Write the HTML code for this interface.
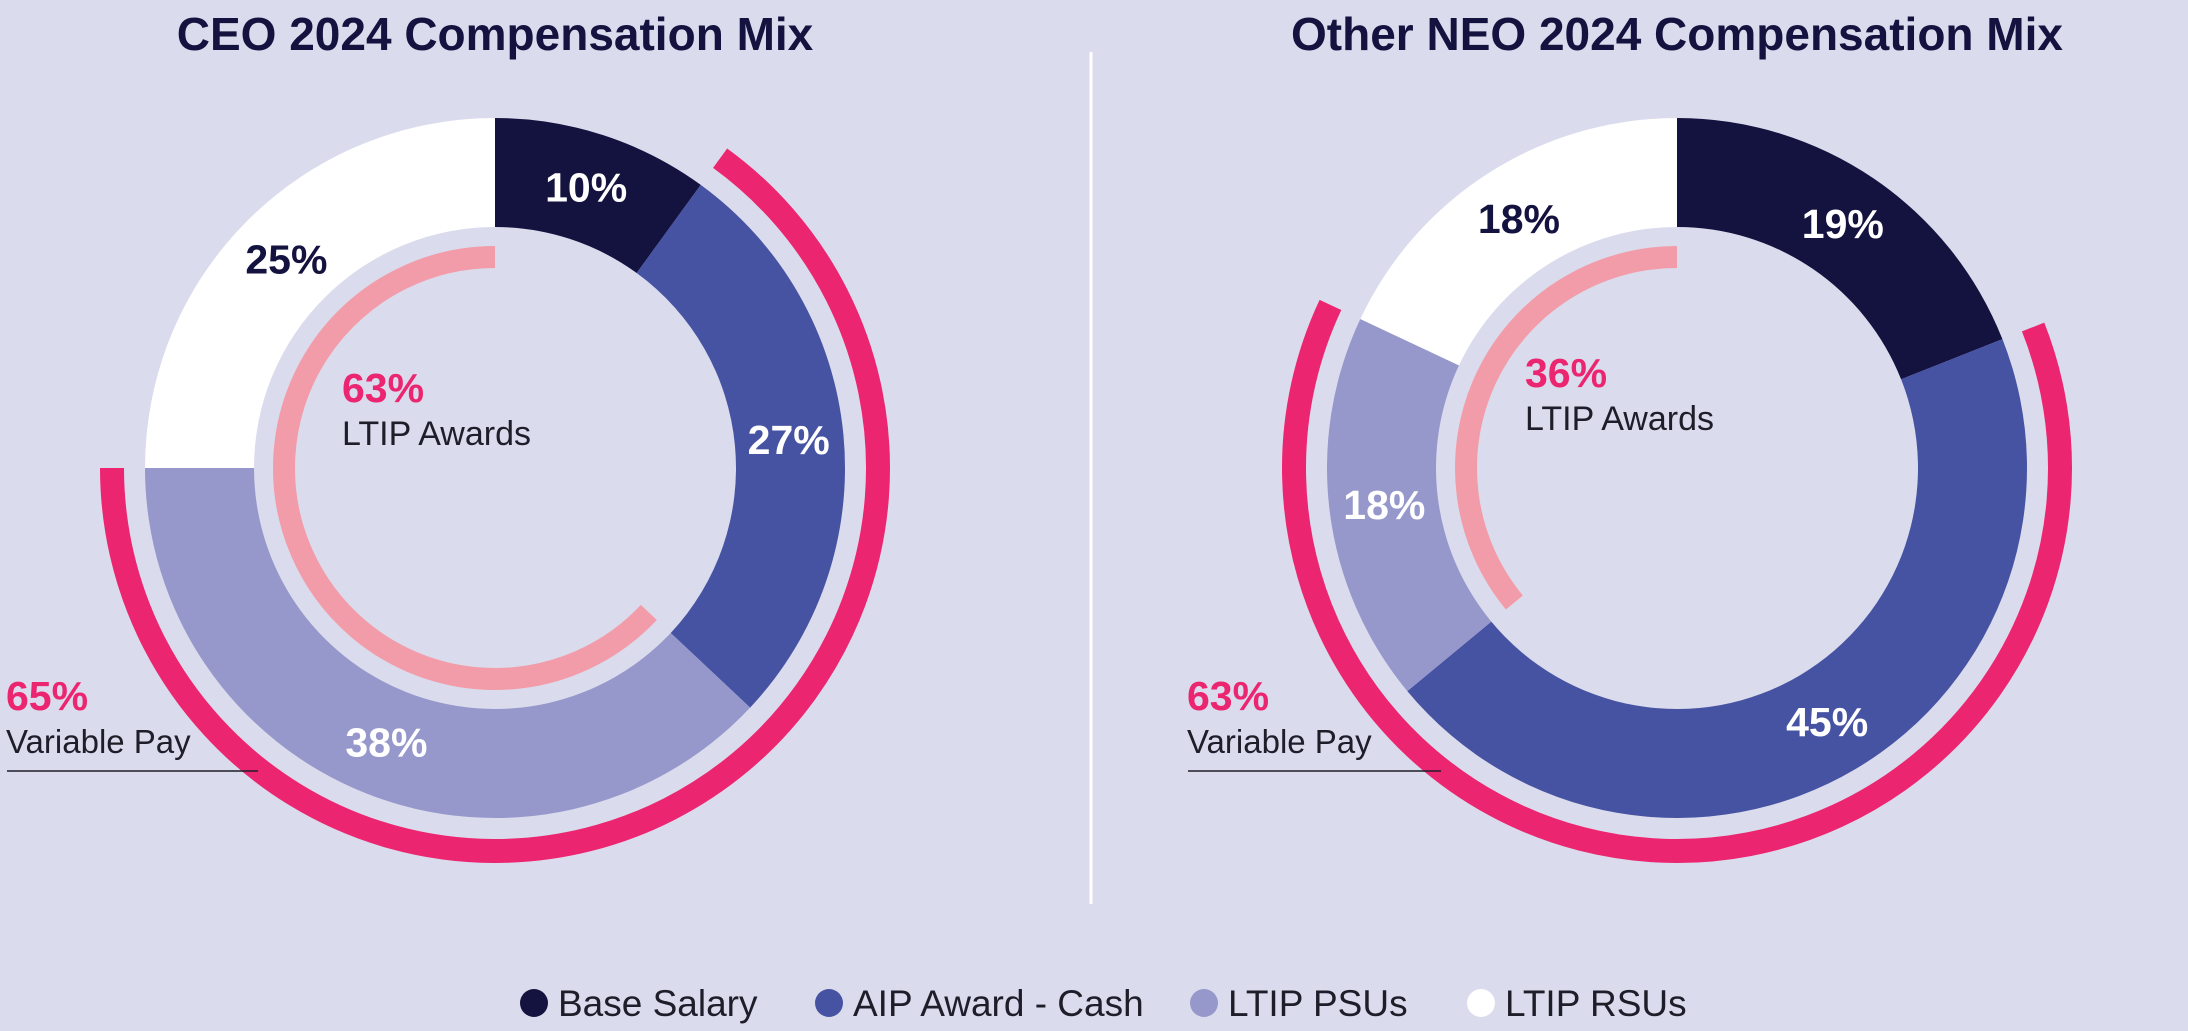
<!DOCTYPE html>
<html><head><meta charset="utf-8"><style>
html,body{margin:0;padding:0;background:#dadbec;}
svg{display:block;font-family:"Liberation Sans",Arial,sans-serif;}
</style></head><body>
<svg id="chart" width="2188" height="1031" viewBox="0 0 2188 1031">
<rect width="2188" height="1031" fill="#dadbec"/>
<line x1="1091" y1="52" x2="1091" y2="904" stroke="#ffffff" stroke-width="3"/>
<text x="495" y="50" text-anchor="middle" font-size="46" font-weight="bold" fill="#14123f">CEO 2024 Compensation Mix</text>
<text x="1677" y="50" text-anchor="middle" font-size="46" font-weight="bold" fill="#14123f">Other NEO 2024 Compensation Mix</text>
<g id="legend"></g>
</svg>
<script>
const categories = ["Base Salary", "AIP Award - Cash", "LTIP PSUs", "LTIP RSUs"];
const ceoValues = [10, 27, 38, 25];
const neoValues = [19, 45, 18, 18];
const ceoVariable = 65;
const neoVariable = 63;
const ceoLtip = 63;
const neoLtip = 36;
const colors = ["#14123f", "#4653a3", "#9698cb", "#ffffff"];
const labelColors = ["#ffffff", "#ffffff", "#ffffff", "#14123f"];

const NS = "http://www.w3.org/2000/svg";
const svg = document.getElementById("chart");
const R = 350, r = 241, LR = 295, VR = 383, IR = 211;
function ang(p){ return p/100*2*Math.PI; }
function pt(cx,cy,rad,p){ const a=ang(p); return [cx+rad*Math.sin(a), cy-rad*Math.cos(a)]; }
function mk(tag, attrs){ const e=document.createElementNS(NS,tag); for(const k in attrs) e.setAttribute(k,attrs[k]); return e; }

function donut(cx, cy, values, variable, ltip, prefix){
  let start = 0;
  values.forEach((v,i)=>{
    const end = start + v;
    const [x1,y1]=pt(cx,cy,R,start),[x2,y2]=pt(cx,cy,R,end);
    const [x3,y3]=pt(cx,cy,r,end),[x4,y4]=pt(cx,cy,r,start);
    const lg = v>50?1:0;
    const p = mk("path",{d:`M${x1} ${y1} A${R} ${R} 0 ${lg} 1 ${x2} ${y2} L${x3} ${y3} A${r} ${r} 0 ${lg} 0 ${x4} ${y4} Z`, fill:colors[i]});
    
    
    svg.appendChild(p);
    const [lx,ly]=pt(cx,cy,LR,start+v/2);
    const t = mk("text",{x:lx,y:ly+14,"text-anchor":"middle","font-size":41,"font-weight":"bold",fill:labelColors[i]});
    t.textContent = v+"%";
    
    
    svg.appendChild(t);
    start = end;
  });
  const vs = values[0], ve = values[0] + variable;
  const [a1,b1]=pt(cx,cy,VR,vs),[a2,b2]=pt(cx,cy,VR,ve);
  const va = mk("path",{d:`M${a1} ${b1} A${VR} ${VR} 0 ${variable>50?1:0} 1 ${a2} ${b2}`,fill:"none",stroke:"#ec2570","stroke-width":24});
  
  
  svg.appendChild(va);
  const [c1,d1]=pt(cx,cy,IR,0),[c2,d2]=pt(cx,cy,IR,100-ltip);
  const la = mk("path",{d:`M${c1} ${d1} A${IR} ${IR} 0 ${ltip>50?1:0} 0 ${c2} ${d2}`,fill:"none",stroke:"#f39ca9","stroke-width":22});
  
  
  svg.appendChild(la);
}

function centerText(x, y, pct, prefix){
  const t1 = mk("text",{x:x,y:y,"font-size":41,"font-weight":"bold",fill:"#ec2570"});
  t1.textContent = pct+"%";
  
  
  svg.appendChild(t1);
  const t2 = mk("text",{x:x,y:y+43,"font-size":34,fill:"#1e1e2a"});
  t2.textContent = "LTIP Awards";
  
  
  svg.appendChild(t2);
}
function variableText(x, lineEnd, pct, prefix){
  const t1 = mk("text",{x:x,y:710,"font-size":41,"font-weight":"bold",fill:"#ec2570"});
  t1.textContent = pct+"%";
  
  
  svg.appendChild(t1);
  const t2 = mk("text",{x:x,y:753,"font-size":33,fill:"#1e1e2a"});
  t2.textContent = "Variable Pay";
  
  
  svg.appendChild(t2);
  const l = mk("line",{x1:x+1,y1:771,x2:lineEnd,y2:771,stroke:"#1e1e2a","stroke-width":1.5});
  
  
  svg.appendChild(l);
}

donut(495, 468, ceoValues, ceoVariable, ceoLtip, "ceo");
donut(1677, 468, neoValues, neoVariable, neoLtip, "neo");
centerText(342, 402, ceoLtip, "ceo");
centerText(1525, 387, neoLtip, "neo");
variableText(6, 258, ceoVariable, "ceo");
variableText(1187, 1441, neoVariable, "neo");

const legend = document.getElementById("legend");
const legendX = [534, 829, 1204, 1481];
categories.forEach((c,i)=>{
  const g = mk("g",{});
  
  
  const dot = mk("circle",{cx:legendX[i],cy:1003,r:14,fill:colors[i]});
  
  
  const t = mk("text",{x:legendX[i]+24,y:1016,"font-size":37,fill:"#1e1e2a"});
  t.textContent = c;
  
  
  g.appendChild(dot); g.appendChild(t);
  legend.appendChild(g);
});
</script>
</body></html>
